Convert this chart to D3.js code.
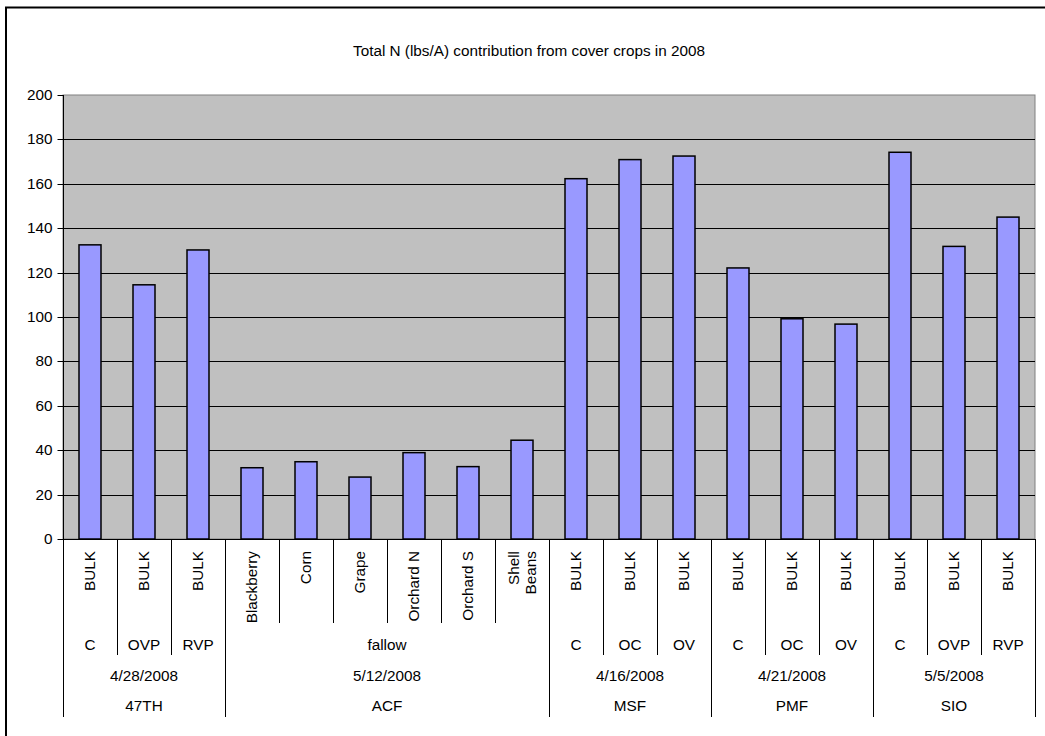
<!DOCTYPE html>
<html>
<head>
<meta charset="utf-8">
<script src="https://cdn.jsdelivr.net/npm/d3@7"></script>
<style>
  html, body { margin: 0; padding: 0; background: #fff; }
  svg { display: block; font-family: "Liberation Sans", Arial, sans-serif; }
</style>
</head>
<body>
<svg id="chart" width="1045" height="736"></svg>
<script>
// ---- Data ----
const titleText = "Total N (lbs/A) contribution from cover crops in 2008";
const labels = ["BULK","BULK","BULK","Blackberry","Corn","Grape","Orchard N","Orchard S","Shell Beans",
                "BULK","BULK","BULK","BULK","BULK","BULK","BULK","BULK","BULK"];
const treatments = ["C","OVP","RVP","fallow","fallow","fallow","fallow","fallow","fallow",
                    "C","OC","OV","C","OC","OV","C","OVP","RVP"];
const dates = ["4/28/2008","4/28/2008","4/28/2008","5/12/2008","5/12/2008","5/12/2008","5/12/2008","5/12/2008","5/12/2008",
               "4/16/2008","4/16/2008","4/16/2008","4/21/2008","4/21/2008","4/21/2008","5/5/2008","5/5/2008","5/5/2008"];
const sites = ["47TH","47TH","47TH","ACF","ACF","ACF","ACF","ACF","ACF",
               "MSF","MSF","MSF","PMF","PMF","PMF","SIO","SIO","SIO"];
const values = [132.5, 114.5, 130.2, 32.1, 34.8, 27.9, 38.9, 32.6, 44.5,
                162.3, 170.9, 172.5, 122.1, 99.2, 96.8, 174.2, 131.8, 145.0];
const yTicks = [0, 20, 40, 60, 80, 100, 120, 140, 160, 180, 200];

// ---- Layout ----
const svg = d3.select("#chart");
const plot = { left: 63, right: 1035, top: 95, bottom: 539 };
const idx = d3.range(values.length);
const x = d3.scaleBand().domain(idx).range([plot.left, plot.right]).padding(0);
const y = d3.scaleLinear().domain([0, 200]).range([plot.bottom, plot.top]);
const fontSize = 15.3;

// outer frame
svg.append("rect")
  .attr("x", 6).attr("y", 7.5).attr("width", 1060).attr("height", 760)
  .attr("fill", "#fff").attr("stroke", "#000").attr("stroke-width", 2);

// title
svg.append("text")
  .attr("x", 529).attr("y", 56)
  .attr("text-anchor", "middle")
  .attr("font-size", fontSize)
  .attr("fill", "#000")
  .text(titleText);

// plot background
svg.append("rect")
  .attr("x", plot.left).attr("y", plot.top)
  .attr("width", plot.right - plot.left).attr("height", plot.bottom - plot.top)
  .attr("fill", "#C0C0C0").attr("stroke", "#808080").attr("stroke-width", 1);

// gridlines
svg.append("g")
  .selectAll("line")
  .data(yTicks.filter(d => d > 0 && d < 200))
  .join("line")
  .attr("x1", plot.left).attr("x2", plot.right)
  .attr("y1", d => Math.round(y(d)) + 0.5).attr("y2", d => Math.round(y(d)) + 0.5)
  .attr("stroke", "#000").attr("stroke-width", 1);

// y axis
const yAxis = d3.axisLeft(y).tickValues(yTicks).tickSize(6).tickPadding(5).tickFormat(d3.format("d"));
const yg = svg.append("g").attr("transform", `translate(${plot.left + 0.5},0)`).call(yAxis);
yg.select(".domain").attr("stroke", "#000").attr("d", `M0,${plot.top}V${plot.bottom}`);
yg.selectAll(".tick line").attr("stroke", "#000");
yg.selectAll(".tick text").attr("font-size", fontSize).attr("font-family", "Liberation Sans, Arial, sans-serif").attr("fill", "#000");
yg.selectAll(".tick").attr("transform", d => `translate(0,${Math.round(y(d)) + 0.5})`);

// bars
const barW = 22;
svg.append("g")
  .selectAll("rect")
  .data(idx)
  .join("rect")
  .attr("x", i => x(i) + x.bandwidth() / 2 - barW / 2)
  .attr("y", i => y(values[i]))
  .attr("width", barW)
  .attr("height", i => y(0) - y(values[i]))
  .attr("fill", "#9999FF")
  .attr("stroke", "#000")
  .attr("stroke-width", 1.5);

// x axis line
svg.append("line")
  .attr("x1", plot.left).attr("x2", plot.right)
  .attr("y1", plot.bottom + 0.5).attr("y2", plot.bottom + 0.5)
  .attr("stroke", "#000");

// ---- Multi-level category axis ----
const lvl1End = 623, lvl2End = 655, lvlFull = 717;
const boundaries = d3.range(values.length + 1);
const xg = svg.append("g");
xg.selectAll("line")
  .data(boundaries)
  .join("line")
  .attr("x1", b => Math.round(b === values.length ? plot.right : x(b)) + 0.5)
  .attr("x2", b => Math.round(b === values.length ? plot.right : x(b)) + 0.5)
  .attr("y1", plot.bottom)
  .attr("y2", b => {
    if (b === 0 || b === values.length) return lvlFull;
    if (sites[b] !== sites[b - 1] || dates[b] !== dates[b - 1]) return lvlFull;
    if (treatments[b] !== treatments[b - 1]) return lvl2End;
    return lvl1End;
  })
  .attr("stroke", "#000").attr("stroke-width", 1);

// level 1 rotated labels
xg.selectAll("g.l1")
  .data(idx)
  .join("g")
  .attr("class", "l1")
  .attr("transform", i => `translate(${x(i) + x.bandwidth() / 2},551) rotate(-90)`)
  .each(function(i) {
    const words = labels[i] === "Shell Beans" ? ["Shell", "Beans"] : [labels[i]];
    const n = words.length;
    d3.select(this).selectAll("text")
      .data(words)
      .join("text")
      .attr("text-anchor", "end")
      .attr("font-size", fontSize)
      .attr("fill", "#000")
      .attr("dy", (w, k) => (0.35 + (k - (n - 1) / 2) * 1.1) + "em")
      .text(w => w);
  });

// span helper
function spans(keyFn) {
  const out = [];
  let start = 0;
  for (let i = 1; i <= values.length; i++) {
    if (i === values.length || keyFn(i) !== keyFn(start)) {
      out.push({ start, end: i - 1 });
      start = i;
    }
  }
  return out;
}
function spanCenter(s) { return (x(s.start) + x(s.end) + x.bandwidth()) / 2; }

const levelDefs = [
  { key: i => sites[i] + "|" + dates[i] + "|" + treatments[i], label: i => treatments[i], yc: 645 },
  { key: i => sites[i] + "|" + dates[i], label: i => dates[i], yc: 676 },
  { key: i => sites[i], label: i => sites[i], yc: 706 }
];
levelDefs.forEach(def => {
  xg.append("g").selectAll("text")
    .data(spans(def.key))
    .join("text")
    .attr("x", s => spanCenter(s))
    .attr("y", def.yc)
    .attr("dy", "0.35em")
    .attr("text-anchor", "middle")
    .attr("font-size", fontSize)
    .attr("fill", "#000")
    .text(s => def.label(s.start));
});
</script>
</body>
</html>
